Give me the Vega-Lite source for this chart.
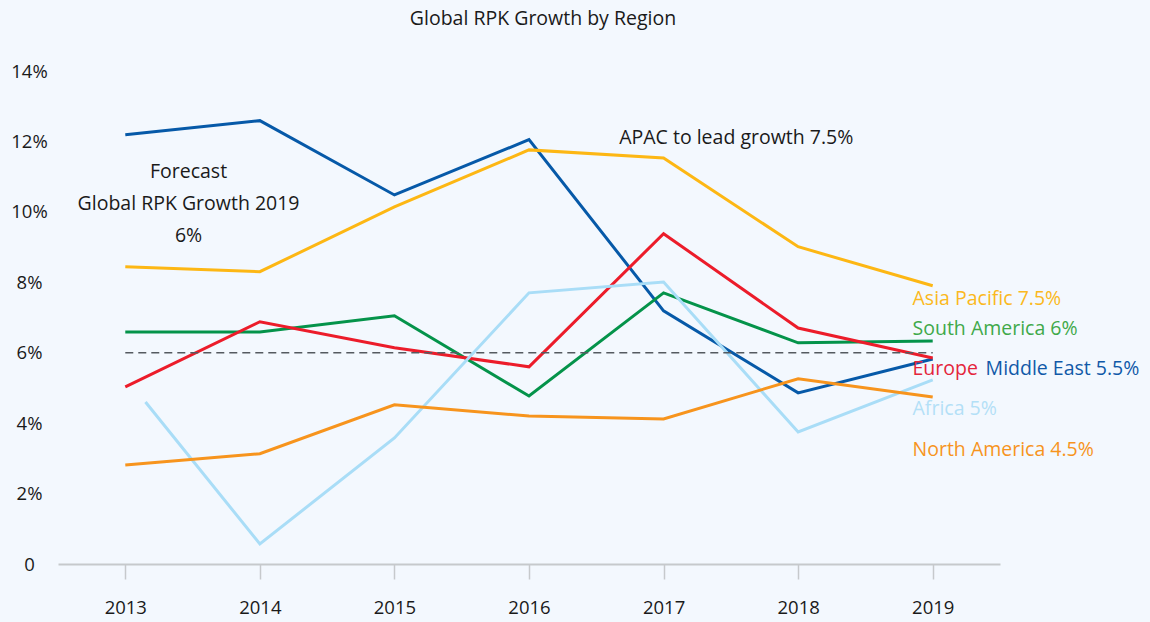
{
  "$schema": "https://vega.github.io/schema/vega-lite/v6.json",
  "width": 942,
  "height": 493,
  "autosize": "none",
  "padding": {"left": 58, "top": 71, "right": 150, "bottom": 58},
  "background": "#f3f8fe",
  "config": {
    "font": "Open Sans",
    "view": {"stroke": null},
    "axisX": {"domainColor": "#c6c9cc", "domainWidth": 2, "tickColor": "#c6c9cc", "tickWidth": 1.5, "tickSize": 15, "labelPadding": 19, "labelFontSize": 18.5, "labelColor": "#1a1a1a", "grid": false, "title": null, "labelFont": "Open Sans"},
    "axisY": {"domain": false, "ticks": false, "grid": false, "labelFontSize": 18.5, "labelColor": "#1a1a1a", "labelAlign": "center", "labelPadding": 29, "title": null, "labelFont": "Open Sans"}
  },
  "title": {"text": "Global RPK Growth by Region", "fontSize": 19.5, "fontWeight": "normal", "color": "#1a1a1a", "offset": 33, "dx": 14, "anchor": "middle", "font": "Open Sans"},
  "datasets": {
    "series": [
      {"region": "Middle East", "year": 2013, "value": 12.19},
      {"region": "Middle East", "year": 2014, "value": 12.59},
      {"region": "Middle East", "year": 2015, "value": 10.48},
      {"region": "Middle East", "year": 2016, "value": 12.05},
      {"region": "Middle East", "year": 2017, "value": 7.19},
      {"region": "Middle East", "year": 2018, "value": 4.86},
      {"region": "Middle East", "year": 2019, "value": 5.82},
      {"region": "Asia Pacific", "year": 2013, "value": 8.44},
      {"region": "Asia Pacific", "year": 2014, "value": 8.3},
      {"region": "Asia Pacific", "year": 2015, "value": 10.14},
      {"region": "Asia Pacific", "year": 2016, "value": 11.76},
      {"region": "Asia Pacific", "year": 2017, "value": 11.53},
      {"region": "Asia Pacific", "year": 2018, "value": 9.01},
      {"region": "Asia Pacific", "year": 2019, "value": 7.9},
      {"region": "South America", "year": 2013, "value": 6.59},
      {"region": "South America", "year": 2014, "value": 6.59},
      {"region": "South America", "year": 2015, "value": 7.05},
      {"region": "South America", "year": 2016, "value": 4.77},
      {"region": "South America", "year": 2017, "value": 7.7},
      {"region": "South America", "year": 2018, "value": 6.28},
      {"region": "South America", "year": 2019, "value": 6.33},
      {"region": "Europe", "year": 2013, "value": 5.03},
      {"region": "Europe", "year": 2014, "value": 6.88},
      {"region": "Europe", "year": 2015, "value": 6.14},
      {"region": "Europe", "year": 2016, "value": 5.6},
      {"region": "Europe", "year": 2017, "value": 9.38},
      {"region": "Europe", "year": 2018, "value": 6.7},
      {"region": "Europe", "year": 2019, "value": 5.85},
      {"region": "Africa", "year": 2013.15, "value": 4.6},
      {"region": "Africa", "year": 2014, "value": 0.57},
      {"region": "Africa", "year": 2015, "value": 3.58},
      {"region": "Africa", "year": 2016, "value": 7.7},
      {"region": "Africa", "year": 2017, "value": 8.01},
      {"region": "Africa", "year": 2018, "value": 3.75},
      {"region": "Africa", "year": 2019, "value": 5.23},
      {"region": "North America", "year": 2013, "value": 2.81},
      {"region": "North America", "year": 2014, "value": 3.13},
      {"region": "North America", "year": 2015, "value": 4.52},
      {"region": "North America", "year": 2016, "value": 4.2},
      {"region": "North America", "year": 2017, "value": 4.12},
      {"region": "North America", "year": 2018, "value": 5.26},
      {"region": "North America", "year": 2019, "value": 4.74}
    ],
    "forecast": [
      {"from": 2013, "to": 2019, "value": 6}
    ],
    "notes": [
      {"text": "Forecast", "year": 2013.47, "value": 11.14},
      {"text": "Global RPK Growth 2019", "year": 2013.47, "value": 10.23},
      {"text": "6%", "year": 2013.47, "value": 9.32},
      {"text": "APAC to lead growth 7.5%", "year": 2017.54, "value": 12.1}
    ],
    "labels": [
      {"text": "Asia Pacific 7.5%", "region": "Asia Pacific", "year": 2018.85, "value": 7.53},
      {"text": "South America 6%", "region": "South America", "year": 2018.85, "value": 6.68},
      {"text": "Europe", "region": "Europe", "year": 2018.85, "value": 5.54},
      {"text": "Middle East 5.5%", "region": "Middle East", "year": 2019.393, "value": 5.54},
      {"text": "Africa 5%", "region": "Africa", "year": 2018.85, "value": 4.4},
      {"text": "North America 4.5%", "region": "North America", "year": 2018.85, "value": 3.24}
    ]
  },
  "layer": [
    {
      "data": {"name": "series"},
      "mark": {"type": "line", "strokeWidth": 3},
      "encoding": {
        "x": {"field": "year", "type": "quantitative", "scale": {"domain": [2012.5, 2019.5], "nice": false, "zero": false}, "axis": {"values": [2013, 2014, 2015, 2016, 2017, 2018, 2019], "format": "d"}},
        "y": {"field": "value", "type": "quantitative", "scale": {"domain": [0, 14], "nice": false}, "axis": {"values": [0, 2, 4, 6, 8, 10, 12, 14], "labelExpr": "datum.value == 0 ? '0' : datum.value + '%'"}},
        "color": {"field": "region", "type": "nominal", "legend": null, "scale": {"domain": ["Middle East", "Asia Pacific", "South America", "Europe", "Africa", "North America"], "range": ["#0659a8", "#fdb714", "#04934a", "#ec1c2a", "#a9ddf7", "#f7941d"]}}
      }
    },
    {
      "data": {"name": "forecast"},
      "mark": {"type": "rule", "strokeDash": [8, 5], "strokeWidth": 1.6, "color": "#555a60"},
      "encoding": {
        "x": {"field": "from", "type": "quantitative"},
        "x2": {"field": "to"},
        "y": {"field": "value", "type": "quantitative"}
      }
    },
    {
      "data": {"name": "notes"},
      "mark": {"type": "text", "align": "center", "baseline": "middle", "fontSize": 19.5, "color": "#1a1a1a", "font": "Open Sans"},
      "encoding": {
        "x": {"field": "year", "type": "quantitative"},
        "y": {"field": "value", "type": "quantitative"},
        "text": {"field": "text"}
      }
    },
    {
      "data": {"name": "labels"},
      "mark": {"type": "text", "align": "left", "baseline": "middle", "fontSize": 19.5, "font": "Open Sans"},
      "encoding": {
        "x": {"field": "year", "type": "quantitative"},
        "y": {"field": "value", "type": "quantitative"},
        "text": {"field": "text"},
        "color": {"field": "region", "type": "nominal", "legend": null, "scale": {"domain": ["Middle East", "Asia Pacific", "South America", "Europe", "Africa", "North America"], "range": ["#1059a8", "#fbb820", "#3fa94a", "#e4253b", "#b3e0f7", "#f7941d"]}}
      }
    }
  ],
  "resolve": {"scale": {"color": "independent"}}
}
